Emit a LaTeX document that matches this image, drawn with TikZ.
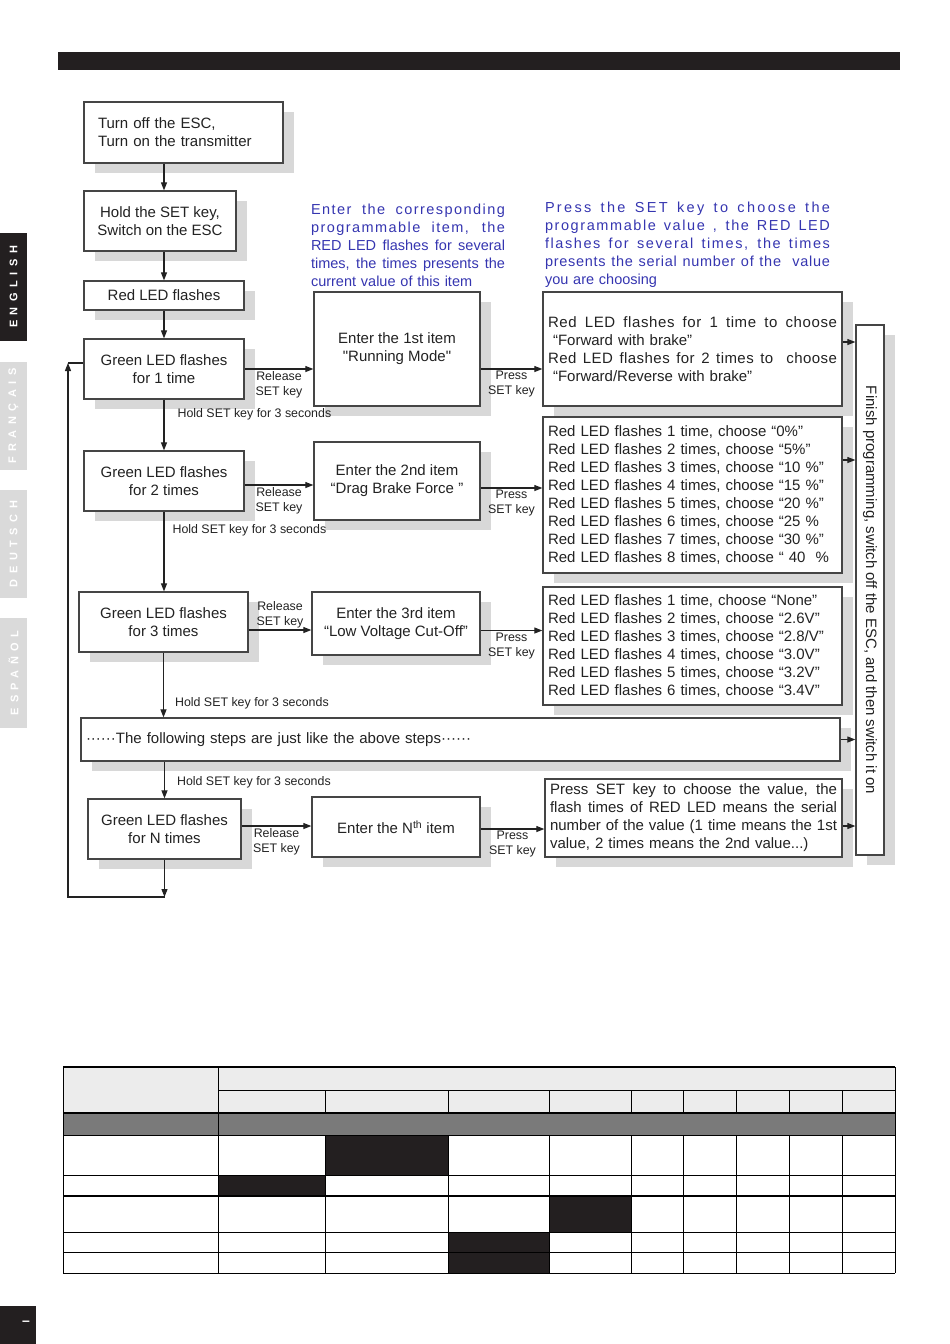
\documentclass[tikz,border=0pt]{standalone}
\usepackage{fontspec}
\setmainfont{Liberation Sans}
\usepackage{graphicx}
\usepackage{xcolor}
\definecolor{ink}{HTML}{222222}
\definecolor{boxline}{HTML}{454545}
\definecolor{shade}{HTML}{D8D8D8}
\definecolor{noteblue}{HTML}{3535B0}
\definecolor{barblack}{HTML}{231F20}
\definecolor{tabgray}{HTML}{DADADA}
\definecolor{hdrgray}{HTML}{ECECEC}
\definecolor{bandgray}{HTML}{7A7A7A}
\usepackage{tikz}
\usetikzlibrary{arrows.meta,shadows}

\newcommand{\bodysize}{\fontsize{15}{18}\selectfont}
\newcommand{\notesize}{\fontsize{14.5}{18}\selectfont}
\newcommand{\keysize}{\fontsize{12.4}{15}\selectfont}
% stretch one line to a given width (optional letter spacing)
\newcommand{\fillline}[3][0]{\makebox[#2][s]{\addfontfeature{LetterSpace=#1}\spaceskip=0.278em plus 1fil\relax#3}}

\begin{document}
\begin{tikzpicture}[
  x=1pt,y=-1pt,
  stepbox/.style={draw=boxline,line width=1.3pt,fill=white,align=center,inner sep=0pt,font=\bodysize,text=ink,
    general shadow={fill=shade,shadow xshift=11pt,shadow yshift=-10pt}},
  valuebox/.style={stepbox,align=left,inner xsep=5pt},
  note/.style={align=left,inner sep=0pt,font=\notesize,text=noteblue},
  keylbl/.style={font=\keysize,align=center,text=ink,inner sep=1.5pt},
  holdlbl/.style={font=\keysize,text=ink,inner sep=0pt},
  arrow/.style={-{Triangle[length=8pt,width=6pt]},draw=ink,line width=1.1pt},
  line/.style={draw=ink,line width=1.1pt},
  tabtext/.style={text=white,font=\bfseries\fontsize{11}{11}\selectfont\addfontfeature{LetterSpace=50}}
]
\useasboundingbox (0,0) rectangle (950,1344);

% page furniture
\fill[barblack] (58,52) rectangle (900,70);
\fill[barblack] (0,233) rectangle (27,341);
\node[tabtext,rotate=90] (english) at (13.5,287) {ENGLISH};
\fill[tabgray] (0,362) rectangle (27,470);
\node[tabtext,rotate=90] (francais) at (13.5,416) {FRANÇAIS};
\fill[tabgray] (0,490) rectangle (27,598);
\node[tabtext,rotate=90] (deutsch) at (13.5,544) {DEUTSCH};
\fill[tabgray] (0,618) rectangle (27,728);
\node[tabtext,rotate=90] (espanol) at (13.5,673) {ESPAÑOL};
\fill[barblack] (0,1306) rectangle (36,1344);
\node[text=white,font=\bfseries\fontsize{14}{14}\selectfont] (pagemark) at (26,1323) {–};

% left column
\node[stepbox,text width=171pt,inner xsep=14pt,align=left,minimum height=61pt] (start) at (183.5,132.5) {Turn off the ESC,\\Turn on the transmitter};
\node[stepbox,minimum width=152pt,minimum height=60pt] (holdset) at (160,221) {Hold the SET key,\\Switch on the ESC};
\node[stepbox,minimum width=160pt,minimum height=29pt] (redled) at (164,295.5) {Red LED flashes};
\node[stepbox,minimum width=160pt,minimum height=60pt] (green1) at (164,369) {Green LED flashes\\for 1 time};
\node[stepbox,minimum width=160pt,minimum height=60pt] (green2) at (164,481) {Green LED flashes\\for 2 times};
\node[stepbox,minimum width=169pt,minimum height=60pt] (green3) at (163.5,622) {Green LED flashes\\for 3 times};
\node[stepbox,minimum width=153pt,minimum height=60pt] (greenN) at (164.5,829) {Green LED flashes\\for N times};

% items
\node[stepbox,minimum width=166pt,minimum height=114pt] (item1) at (397,349) {Enter the 1st item\\\textquotedbl Running Mode\textquotedbl};
\node[stepbox,minimum width=166pt,minimum height=78pt] (item2) at (397,481) {Enter the 2nd item\\“Drag Brake Force ”};
\node[stepbox,minimum width=168pt,minimum height=63pt] (item3) at (396,623.5) {Enter the 3rd item\\“Low Voltage Cut-Off”};
\node[stepbox,minimum width=168pt,minimum height=60pt] (itemN) at (396,827) {Enter the N\textsuperscript{th} item};

% notes
\node[note,text width=194pt] (note1) at (408,245) {\fillline[10]{194pt}{Enter the corresponding}\\\fillline[10]{194pt}{programmable item, the}\\\fillline{194pt}{RED LED flashes for several}\\\fillline{194pt}{times, the times presents the}\\current value of this item};
\node[note,text width=285pt] (note2) at (687.5,245) {\fillline[16]{285pt}{Press the SET key to choose the}\\\fillline[11]{285pt}{programmable value , the RED LED}\\\fillline[11]{285pt}{flashes for several times, the times}\\\fillline[5]{285pt}{presents the serial number of the\ \ value}\\you are choosing};

% values
\node[valuebox,text width=289pt,minimum height=114pt] (value1) at (692.5,349) {\fillline[4]{289pt}{Red LED flashes for 1 time to choose}\\\hspace*{5pt}“Forward with brake”\\\fillline[3]{289pt}{Red LED flashes for 2 times to\ \ choose}\\\hspace*{5pt}“Forward/Reverse with brake”};
\node[valuebox,text width=289pt,minimum height=156pt] (value2) at (692.5,495) {Red LED flashes 1 time, choose “0\%”\\Red LED flashes 2 times, choose “5\%”\\Red LED flashes 3 times, choose “10 \%”\\Red LED flashes 4 times, choose “15 \%”\\Red LED flashes 5 times, choose “20 \%”\\Red LED flashes 6 times, choose “25 \%\\Red LED flashes 7 times, choose “30 \%”\\Red LED flashes 8 times, choose “ 40\ \ \%};
\node[valuebox,text width=289pt,minimum height=118pt] (value3) at (692.5,646) {Red LED flashes 1 time, choose “None”\\Red LED flashes 2 times, choose “2.6V”\\Red LED flashes 3 times, choose “2.8/V”\\Red LED flashes 4 times, choose “3.0V”\\Red LED flashes 5 times, choose “3.2V”\\Red LED flashes 6 times, choose “3.4V”};
\node[valuebox,text width=287pt,minimum height=78pt] (valueN) at (693.5,818) {\fillline{287pt}{Press SET key to choose the value, the}\\\fillline{287pt}{flash times of RED LED means the serial}\\\fillline{287pt}{number of the value (1 time means the 1st}\\value, 2 times means the 2nd value...)};

\node[stepbox,text width=749pt,inner xsep=5pt,align=left,minimum height=43pt] (steps) at (460.5,739.5) {······The following steps are just like the above steps······};
\node[stepbox,minimum width=28pt,minimum height=530pt] (finish) at (870,590) {\rotatebox{-90}{Finish programming, switch off the ESC, and then switch it on}};

% main column arrows
\draw[arrow] (start.south -| redled) -- (holdset.north -| redled);
\draw[arrow] (holdset.south -| redled) -- (redled.north);
\draw[arrow] (redled) -- (green1);
\draw[arrow] (green1) -- node[pos=0.29,anchor=west,xshift=13pt,holdlbl] {Hold SET key for 3 seconds} (green2);
\draw[arrow] (green2.south) -- node[pos=0.23,anchor=west,xshift=8pt,holdlbl] {Hold SET key for 3 seconds} (green2.south |- green3.north);
\draw[arrow] (green3.south) -- node[pos=0.79,anchor=west,xshift=11pt,holdlbl] {Hold SET key for 3 seconds} (green3.south |- steps.north);
\draw[arrow] (steps.south -| greenN) -- node[pos=0.55,anchor=west,xshift=12pt,holdlbl] {Hold SET key for 3 seconds} (greenN.north);

% loop back
\coordinate (loopbot) at (164.5,897);
\coordinate (loopleft) at (68,897);
\coordinate (looptop) at (68,363);
\draw[arrow] (greenN.south) -- (loopbot);
\draw[arrow] (loopbot) -- (loopleft) -- (looptop);
\draw[line] (looptop) -- (looptop -| green1.west);

% into the items
\draw[arrow] (green1.east) -- node[midway,below,keylbl] {Release\\SET key} (green1.east -| item1.west);
\draw[arrow] ([yshift=-4pt]green2.east) -- node[midway,below,keylbl] {Release\\SET key} ([yshift=-4pt]green2.east -| item2.west);
\draw[arrow] ([yshift=-8pt]green3.east) -- node[midway,above,keylbl] {Release\\SET key} ([yshift=-8pt]green3.east -| item3.west);
\draw[arrow] ([yshift=3pt]greenN.east) -- node[midway,below,keylbl] {Release\\SET key} ([yshift=3pt]greenN.east -| itemN.west);

% into the values
\draw[arrow] (green1 -| item1.east) -- node[midway,below,keylbl] {Press\\SET key} (green1 -| value1.west);
\draw[arrow] ([yshift=-7pt]item2.east) -- node[midway,below,keylbl] {Press\\SET key} ([yshift=-7pt]item2.east -| value2.west);
\draw[arrow] ([yshift=-7pt]item3.east) -- node[midway,below,keylbl] {Press\\SET key} ([yshift=-7pt]item3.east -| value3.west);
\draw[arrow] ([yshift=-2pt]itemN.east) -- node[midway,below,keylbl] {Press\\SET key} ([yshift=-2pt]itemN.east -| valueN.west);

% into finish
\draw[arrow] ([yshift=7pt]value1.east) -- ([yshift=7pt]value1.east -| finish.west);
\draw[arrow] ([yshift=35pt]value2.east) -- ([yshift=35pt]value2.east -| finish.west);
\draw[arrow] (steps.east) -- (steps.east -| finish.west);
\draw[arrow] ([yshift=-8pt]valueN.east) -- ([yshift=-8pt]valueN.east -| finish.west);

% table
\fill[hdrgray] (63,1067) rectangle (895,1113);
\fill[bandgray] (63,1113) rectangle (895,1135);
\fill[barblack] (325,1135) rectangle (448,1175);
\fill[barblack] (218,1175) rectangle (325,1196);
\fill[barblack] (549,1196) rectangle (631,1232);
\fill[barblack] (448,1232) rectangle (549,1273);
\draw[line width=2pt] (63,1067) -- (895,1067);
\draw[line width=1pt] (218,1090) -- (895,1090);
\draw[line width=2.2pt] (63,1113) -- (895,1113);
\draw[line width=1pt] (63,1135) -- (895,1135) (63,1175) -- (895,1175);
\draw[line width=2pt] (63,1196) -- (895,1196);
\draw[line width=1pt] (63,1232) -- (895,1232) (63,1252) -- (895,1252) (63,1273) -- (895,1273);
\draw[line width=1pt] (63,1067) -- (63,1273) (218,1067) -- (218,1273) (895,1067) -- (895,1273);
\foreach \cx in {325,448,549,631,683,736,789,842}
  \draw[line width=1pt] (\cx,1090) -- (\cx,1113) (\cx,1135) -- (\cx,1273);
\end{tikzpicture}
\end{document}
